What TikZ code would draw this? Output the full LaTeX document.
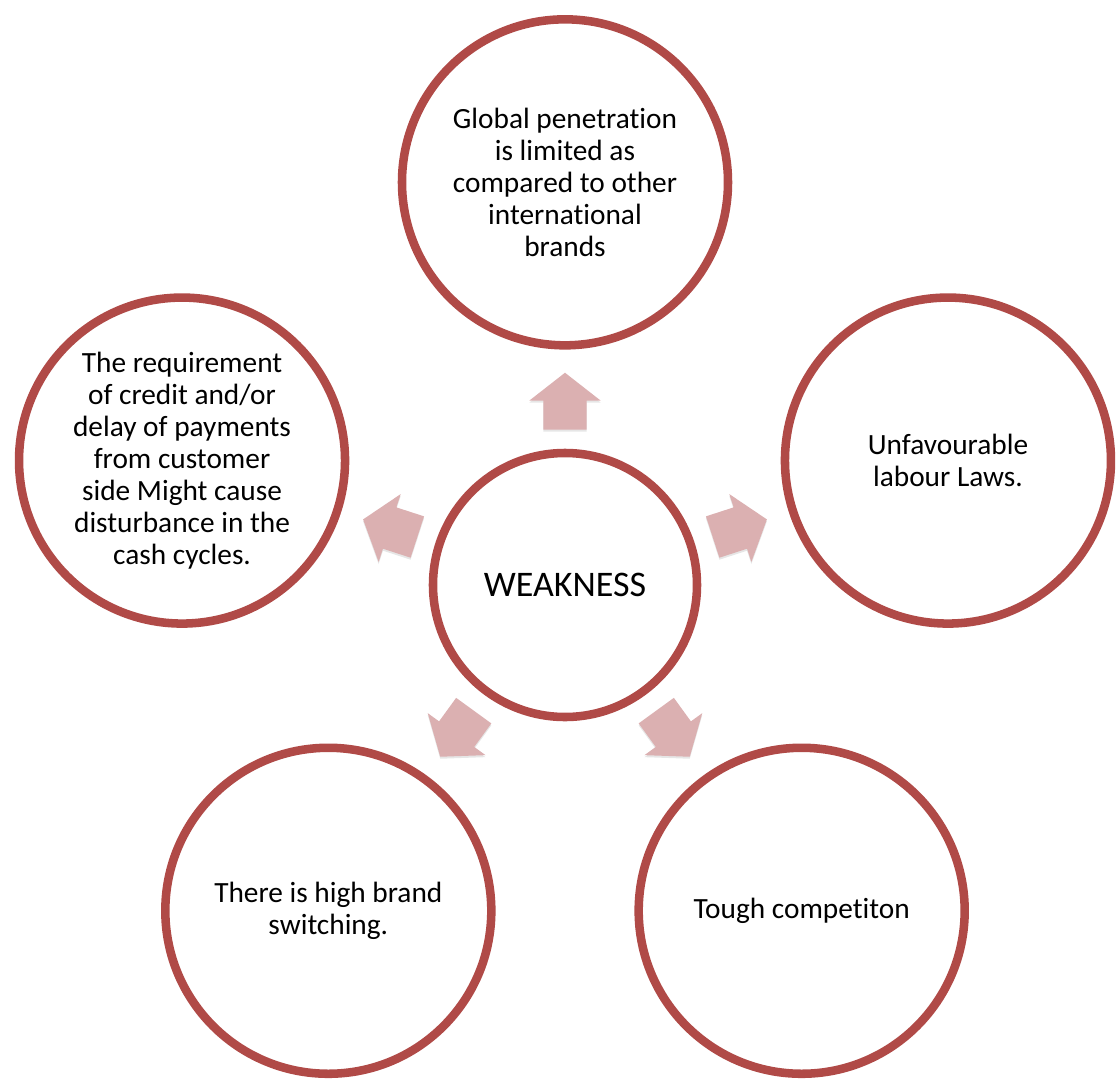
\documentclass[tikz,border=0pt]{standalone}
\usepackage{fontspec}
\setmainfont{Carlito}[Ligatures=NoCommon]
\usetikzlibrary{shapes.arrows, shadows}

\definecolor{ringred}{RGB}{176,74,71}
\definecolor{arrowpink}{RGB}{219,176,177}

\begin{document}
\begin{tikzpicture}[
  x=1pt, y=1pt,
  ring/.style={circle, draw=ringred, line width=6.4pt, fill=white,
               align=center, inner sep=0pt,
               drop shadow={shadow xshift=0.5pt, shadow yshift=-1.5pt, opacity=0.2}},
  hub/.style={ring, minimum size=198pt, font=\fontsize{27}{30}\selectfont},
  spoke/.style={ring, minimum size=244.5pt, font=\fontsize{22}{24}\selectfont},
  outarr/.style={single arrow, fill=arrowpink, draw=none,
                 inner xsep=0pt, inner ysep=16.1pt,
                 minimum height=42.75pt,
                 single arrow head extend=10.5pt, single arrow tip angle=104,
                 anchor=tail,
                 drop shadow={shadow xshift=0pt, shadow yshift=-1.5pt, opacity=0.2}}
]
\useasboundingbox (-423.75,-375.75) rectangle (413.25,438.75);

\node[hub] (weak) at (0,0) {WEAKNESS};

\node[spoke] (glob)   at (90:302)  {Global penetration\\is limited as\\compared to other\\international\\brands};
\node[spoke] (labour) at (18:302)  {Unfavourable\\labour Laws.};
\node[spoke] (credit) at (162:302) {The requirement\\of credit and/or\\delay of payments\\from customer\\side Might cause\\disturbance in the\\cash cycles.};
\node[spoke] (switch) at (234:302) {There is high brand\\switching.};
\node[spoke] (comp)   at (306:302) {Tough competiton};

% block arrows pointing out from the hub
\foreach \ang in {90,18,162,234,306}
  \node[outarr, rotate=\ang] (arr\ang) at ([shift={(\ang:116.25)}]weak.center) {};
\end{tikzpicture}
\end{document}
